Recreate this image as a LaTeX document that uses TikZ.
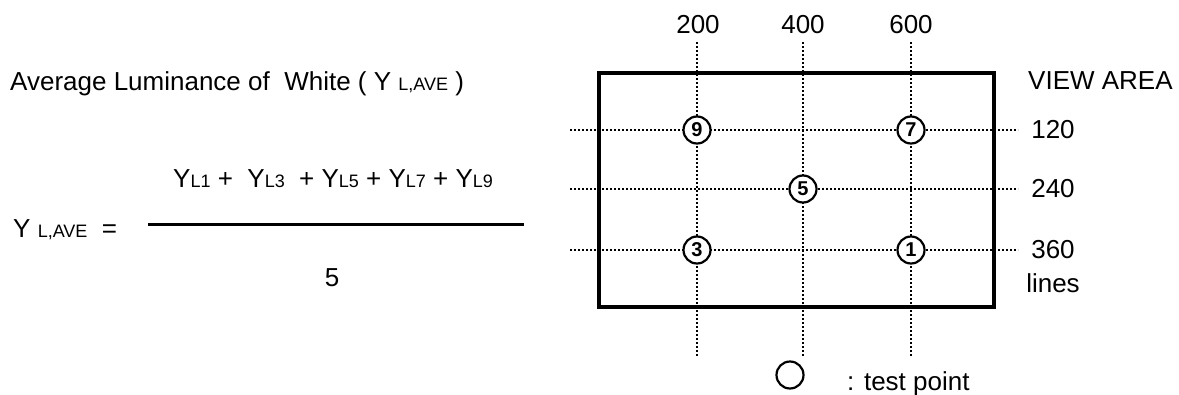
\documentclass[tikz,border=0pt]{standalone}
\usepackage{fontspec}
\setmainfont{Liberation Sans}
\newcommand{\bigf}{\fontsize{26}{30}\selectfont}
\newcommand{\smf}[1]{{\fontsize{18}{20}\selectfont #1}}
\begin{document}
\begin{tikzpicture}[x=1pt,y=-1pt,
  txt/.style={inner sep=0pt,font=\bigf},
  dotline/.style={line width=2pt,dash pattern=on 2pt off 2pt},
  frame/.style={line width=4pt},
  marker/.style={circle,draw,line width=2.2pt,fill=white,minimum size=27pt,inner sep=0pt,font=\fontsize{20}{22}\selectfont\bfseries},
  testpt/.style={circle,draw,line width=2.2pt,minimum size=27pt,inner sep=0pt}]
\useasboundingbox (0,0) rectangle (1179,394);
% left: formula
\node[txt,anchor=base west] (title) at (10,90) {Average Luminance of\ \ White ( Y \smf{L,AVE} )};
\node[txt,anchor=base west] (num) at (173,187) {Y\smf{L1} +\ \ Y\smf{L3}\ \ + Y\smf{L5} + Y\smf{L7} + Y\smf{L9}};
\node[txt,anchor=base west] (lhs) at (13,237) {Y \smf{L,AVE}\ \ =};
\coordinate (fl) at (148,224);
\coordinate (fr) at (524,224);
\draw[line width=3pt] (fl) -- (fr);
\node[txt,anchor=base] (den) at (332,286) {5};
% right: view area
\coordinate (ra) at (599,73);
\coordinate (rb) at (994,307);
% grid line ends
\foreach \n/\y in {a/130,b/189,c/250}{
  \coordinate (h\n w) at (570,\y);
  \coordinate (h\n e) at (1018,\y);
}
\foreach \n/\x in {a/697,b/803,c/911}{
  \coordinate (v\n n) at (\x,42);
  \coordinate (v\n s) at (\x,356);
}
\foreach \n in {a,b,c}{
  \draw[dotline] (h\n w) -- (h\n e);
  \draw[dotline] (v\n n) -- (v\n s);
}
\draw[frame] (ra) rectangle (rb);
% markers
\node[marker] (m9) at (697,130) {9};
\node[marker] (m7) at (911,130) {7};
\node[marker] (m5) at (803,189) {5};
\node[marker] (m3) at (697,250) {3};
\node[marker] (m1) at (911,250) {1};
% column labels
\node[txt] (c200) at (698,25) {200};
\node[txt] (c400) at (803,25) {400};
\node[txt] (c600) at (911,25) {600};
% row labels
\node[txt,anchor=west] (va) at (1028,81) {VIEW AREA};
\node[txt] (r120) at (1053,130) {120};
\node[txt] (r240) at (1053,189) {240};
\node[txt] (r360) at (1053,250) {360};
\node[txt] (lines) at (1053,283) {lines};
% legend
\node[testpt] (tp) at (790,375) {};
\node[txt,anchor=base west] (tplabel) at (847,390) {: test point};
\end{tikzpicture}
\end{document}
